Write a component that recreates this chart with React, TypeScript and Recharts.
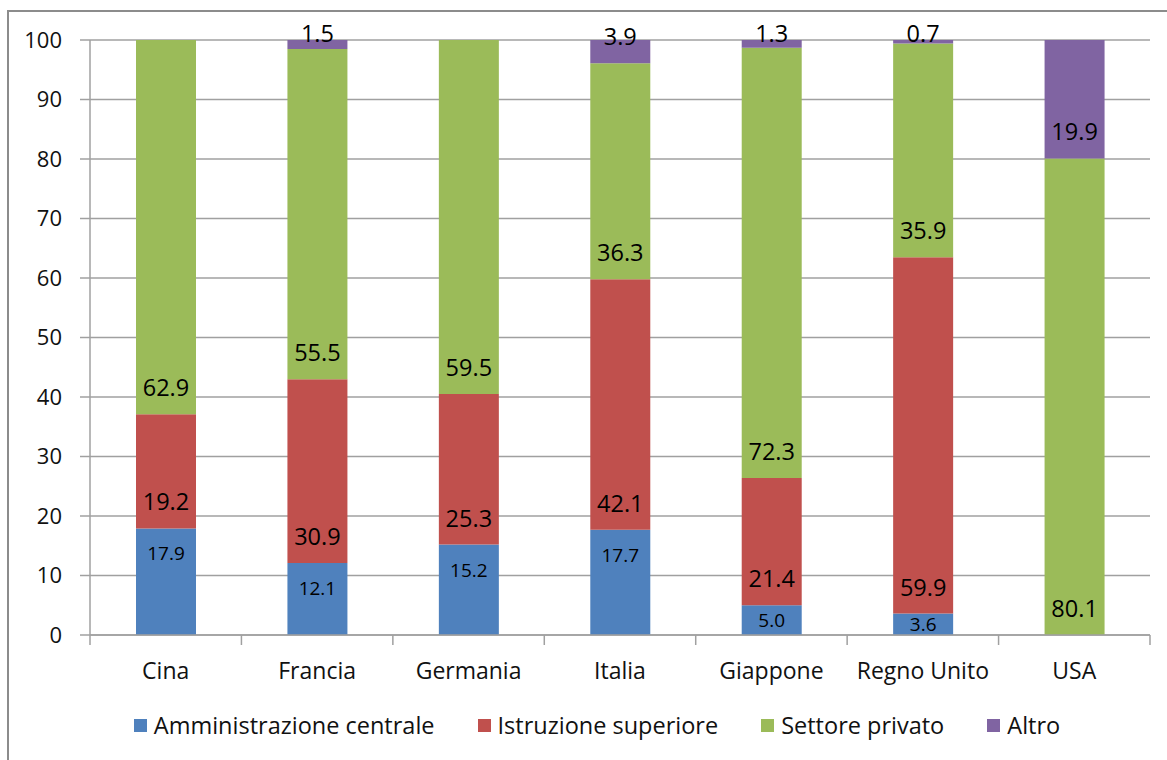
import React from 'react';
import { BarChart, Bar, XAxis, YAxis, CartesianGrid, Legend, LabelList } from 'recharts';

const categories = ['Cina', 'Francia', 'Germania', 'Italia', 'Giappone', 'Regno Unito', 'USA'];
const amministrazione = [17.9, 12.1, 15.2, 17.7, 5.0, 3.6, null];
const istruzione = [19.2, 30.9, 25.3, 42.1, 21.4, 59.9, null];
const privato = [62.9, 55.5, 59.5, 36.3, 72.3, 35.9, 80.1];
const altro = [null, 1.5, null, 3.9, 1.3, 0.7, 19.9];
const yTicks = [0, 10, 20, 30, 40, 50, 60, 70, 80, 90, 100];

const seriesInfo = [
  { key: 'amm', name: 'Amministrazione centrale', color: '#4F81BD' },
  { key: 'ist', name: 'Istruzione superiore', color: '#C0504D' },
  { key: 'priv', name: 'Settore privato', color: '#9BBB59' },
  { key: 'altro', name: 'Altro', color: '#8064A2' },
];

const data = categories.map((c, i) => ({
  name: c,
  amm: amministrazione[i],
  ist: istruzione[i],
  priv: privato[i],
  altro: altro[i],
}));

const FONT = '"Open Sans", sans-serif';
const W = 1167;
const H = 760;
const M = { top: 40, right: 17, left: 0, bottom: 0 };
const Y_W = 90;
const PLOT_W = W - M.left - M.right - Y_W;
const BAND = PLOT_W / categories.length;
const AXIS_COLOR = '#a0a0a0';

const XTick = (props: any) => {
  const { x, y, payload, index } = props;
  const top = y - 12;
  return (
    <g>
      <line x1={x - BAND / 2} x2={x - BAND / 2} y1={top} y2={top + 10} stroke={AXIS_COLOR} strokeWidth={1.5} />
      {index === categories.length - 1 && (
        <line x1={x + BAND / 2} x2={x + BAND / 2} y1={top} y2={top + 10} stroke={AXIS_COLOR} strokeWidth={1.5} />
      )}
      <text x={x} y={y + 23} textAnchor="middle" dominantBaseline="central" fontFamily={FONT} fontSize={23} fill="#111">
        {payload.value}
      </text>
    </g>
  );
};

const makeLabel = (small: boolean) => (props: any) => {
  const { value } = props;
  if (value === null || value === undefined) return null;
  const vb = props.viewBox || {};
  const x = props.x ?? vb.x;
  const y = props.y ?? vb.y;
  const w = props.width ?? vb.width;
  const h = props.height ?? vb.height;
  const cx = x + w / 2;
  let cy: number;
  if (small) {
    cy = y + Math.min(25, h / 2);
  } else {
    cy = Math.max(y + h - 27, y - 7);
  }
  return (
    <text x={cx} y={cy} textAnchor="middle" dominantBaseline="central" fontFamily={FONT} fontSize={small ? 19 : 23.5} fill="#000">
      {Number(value).toFixed(1)}
    </text>
  );
};

const LegendContent = () => (
  <div
    style={{
      height: 65,
      width: W,
      boxSizing: 'border-box',
      paddingLeft: 27,
      paddingBottom: 5,
      display: 'flex',
      justifyContent: 'center',
      alignItems: 'center',
      fontFamily: FONT,
      fontSize: 23.5,
      color: '#111',
    }}
  >
    {seriesInfo.map((s, i) => (
      <div key={s.key} style={{ display: 'flex', alignItems: 'center', marginRight: i === seriesInfo.length - 1 ? 0 : 43 }}>
        <span style={{ display: 'inline-block', width: 13, height: 13, background: s.color, marginRight: 7 }} />
        <span>{s.name}</span>
      </div>
    ))}
  </div>
);

export default function App() {
  return (
    <div style={{ position: 'absolute', left: 0, top: 0, width: W, height: H, overflow: 'hidden', background: '#fff' }}>
      <div
        style={{
          position: 'absolute',
          left: 7,
          top: 10,
          width: W + 40,
          height: H + 40,
          border: '2px solid #8c8c8c',
          boxSizing: 'border-box',
        }}
      />
      <div style={{ position: 'absolute', left: 0, top: 0 }}>
        <BarChart width={W} height={H} data={data} margin={M}>
          <CartesianGrid horizontal={true} vertical={false} stroke={AXIS_COLOR} strokeWidth={1.5} />
          <XAxis
            dataKey="name"
            height={60}
            tickSize={10}
            tickMargin={2}
            tickLine={false}
            axisLine={{ stroke: AXIS_COLOR, strokeWidth: 1.5 }}
            tick={<XTick />}
            interval={0}
          />
          <YAxis
            width={Y_W}
            domain={[0, 100]}
            ticks={yTicks}
            tickSize={10}
            tickMargin={18}
            allowDataOverflow
            axisLine={{ stroke: AXIS_COLOR, strokeWidth: 1.5 }}
            tickLine={{ stroke: AXIS_COLOR, strokeWidth: 1.5 }}
            tick={{ fontFamily: FONT, fontSize: 22, fill: '#111' }}
          />
          <Legend verticalAlign="bottom" content={<LegendContent />} wrapperStyle={{ left: 0, width: W }} />
          {seriesInfo.map((s, i) => (
            <Bar key={s.key} dataKey={s.key} name={s.name} stackId="a" fill={s.color} barSize={60} isAnimationActive={false}>
              <LabelList dataKey={s.key} content={makeLabel(i === 0)} />
            </Bar>
          ))}
        </BarChart>
      </div>
    </div>
  );
}
